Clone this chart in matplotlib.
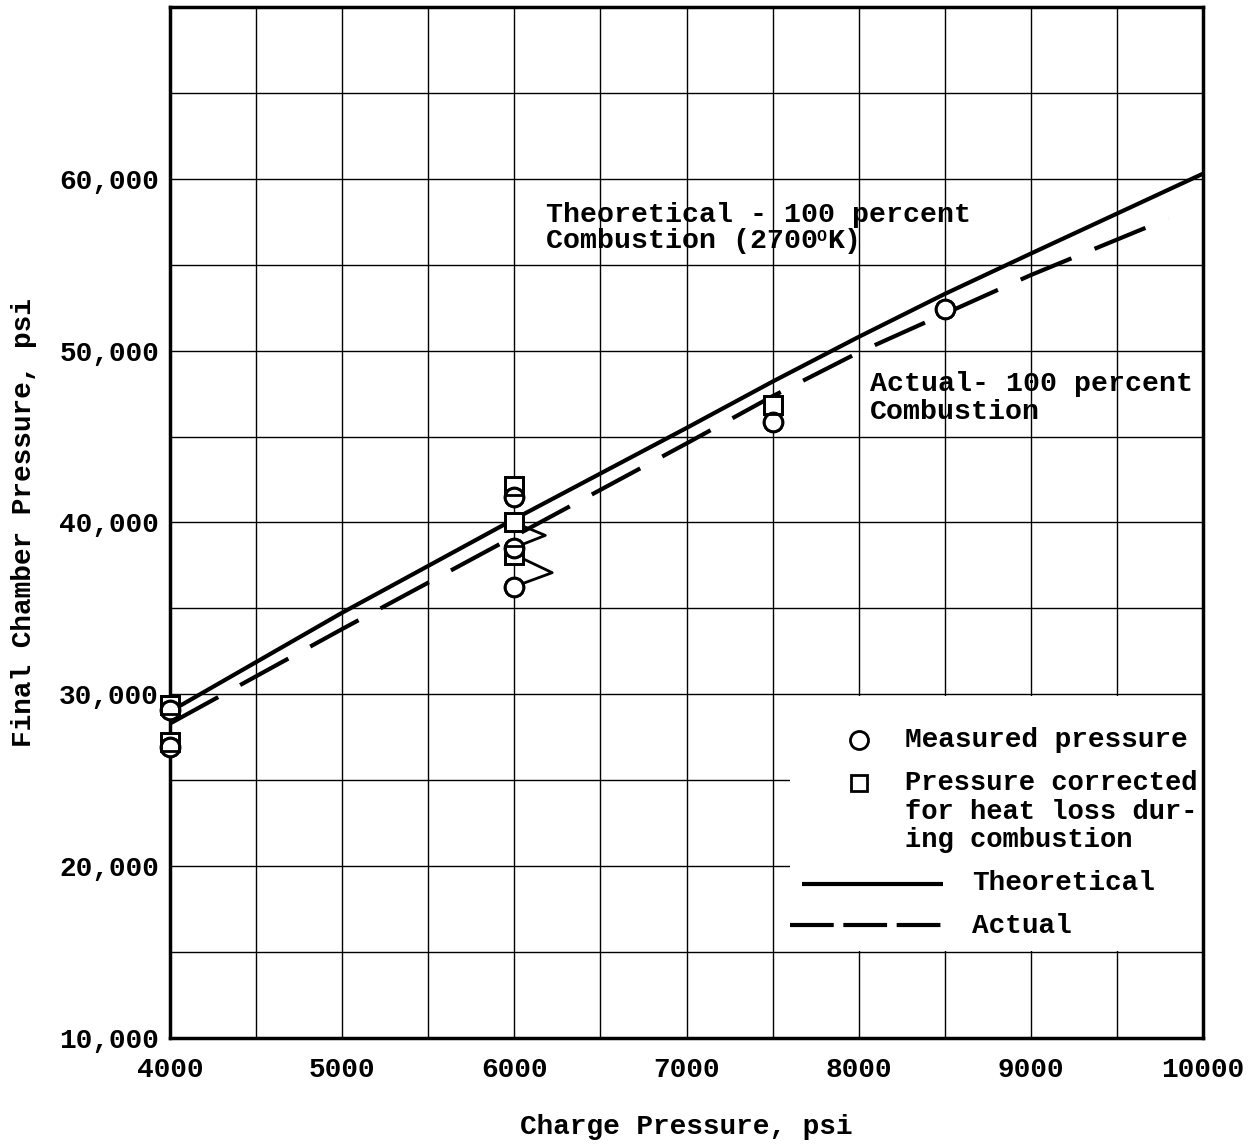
import matplotlib
matplotlib.use("Agg")
import matplotlib.pyplot as plt
from matplotlib.patches import Rectangle
from matplotlib.transforms import offset_copy

plt.rcParams['font.family'] = ['Liberation Mono', 'DejaVu Sans Mono']
plt.rcParams['font.weight'] = 'bold'
plt.rcParams['axes.labelweight'] = 'bold'

# ---- data ----
theo_x = [4000, 5000, 6000, 7000, 7500, 8000, 8500, 9000, 10000]
theo_y = [29000, 34750, 40200, 45500, 48200, 50800, 53300, 55650, 60300]

act_x = [4000, 5000, 6000, 7000, 7500, 8000, 8500, 9000, 9800]
act_y = [28300, 33800, 39200, 44600, 47350, 49900, 52150, 54400, 57700]

meas_x = [4000, 4000, 6000, 6000, 6000, 7500, 8500]
meas_y = [29100, 26950, 41500, 38540, 36270, 45820, 52400]

corr_x = [4000, 4000, 6000, 6000, 6000, 7500]
corr_y = [29400, 27250, 42100, 40000, 38130, 46810]

flag1_x = [6000, 6180, 6000]
flag1_y = [40000, 39250, 38540]
flag2_x = [6000, 6220, 6000]
flag2_y = [38130, 37080, 36270]

x_ticks = [4000, 5000, 6000, 7000, 8000, 9000, 10000]
x_ticklabels = ['4000', '5000', '6000', '7000', '8000', '9000', '10000']
y_ticks = [10000, 20000, 30000, 40000, 50000, 60000]
y_ticklabels = ['10,000', '20,000', '30,000', '40,000', '50,000', '60,000']

fig = plt.figure(figsize=(12.51, 11.44), dpi=100)
ax = fig.add_axes([170/1251, 1 - 1038/1144, 1033/1251, 1031/1144])
ax.set_xlim(4000, 10000)
ax.set_ylim(10000, 70000)

# grid
ax.set_xticks(range(4000, 10001, 500), minor=True)
ax.set_yticks(range(10000, 70001, 5000), minor=True)
ax.grid(True, which='both', color='black', lw=1.0)
ax.set_axisbelow(True)

ax.set_xticks(x_ticks)
ax.set_xticklabels(x_ticklabels, fontsize=20)
ax.set_yticks(y_ticks)
ax.set_yticklabels(y_ticklabels, fontsize=20)
ax.tick_params(which='both', length=0)
ax.tick_params(axis='x', pad=14)
ax.tick_params(axis='y', pad=8)
for s in ax.spines.values():
    s.set_linewidth(2.5)

# lines
lw = 3.0
ax.plot(theo_x, theo_y, color='black', lw=lw, solid_capstyle='butt', zorder=3)
ax.plot(act_x, act_y, color='black', lw=lw, linestyle=(0, (13.2, 6.0)),
        dash_capstyle='butt', zorder=3)

# flags
ax.plot(flag1_x, flag1_y, color='black', lw=2.0, zorder=3)
ax.plot(flag2_x, flag2_y, color='black', lw=2.0, zorder=3)

# markers (white filled, then outlines on top so overlaps show both)
mk = dict(linestyle='none', markeredgecolor='black', markeredgewidth=2.0, clip_on=False)
ax.plot(corr_x, corr_y, marker='s', markersize=12.5, markerfacecolor='white', zorder=4, **mk)
ax.plot(meas_x, meas_y, marker='o', markersize=13.5, markerfacecolor='white', zorder=4, **mk)
ax.plot(corr_x, corr_y, marker='s', markersize=12.5, fillstyle='none', zorder=5, **mk)
ax.plot(meas_x, meas_y, marker='o', markersize=13.5, fillstyle='none', zorder=5, **mk)

# annotations
fs = 20.3
ax.text(6183, 57470, 'Theoretical - 100 percent', fontsize=fs, va='baseline', ha='left')
ax.text(6183, 55950, 'Combustion (2700', fontsize=fs, va='baseline', ha='left')
ax.text(6183 + 16 * 0.6 * fs * 1.389 / 172.2 * 1000, 55950, 'O', fontsize=12,
        va='baseline', ha='left',
        transform=offset_copy(ax.transData, fig=fig, x=0, y=7, units='dots'))
ax.text(6183 + (16 * 0.6 * fs * 1.389 + 12 * 0.6 * 1.389 + 1) / 172.2 * 1000, 55950, 'K)',
        fontsize=fs, va='baseline', ha='left')
ax.text(8065, 47680, 'Actual- 100 percent', fontsize=fs, va='baseline', ha='left')
ax.text(8065, 46050, 'Combustion', fontsize=fs, va='baseline', ha='left')

# legend (manual)
def axx(px):
    return (px - 170) / 1033.0
def axy(py):
    return (1038 - py) / 1031.0

ax.add_patch(Rectangle((axx(790), axy(951)), 1 - axx(790), axy(696) - axy(951),
                       transform=ax.transAxes, facecolor='white', edgecolor='none', zorder=1))
ax.plot([axx(859)], [axy(740)], transform=ax.transAxes, marker='o', markersize=13,
        markerfacecolor='white', markeredgecolor='black', markeredgewidth=2.0, zorder=6)
ax.plot([axx(859)], [axy(783)], transform=ax.transAxes, marker='s', markersize=11,
        markerfacecolor='white', markeredgecolor='black', markeredgewidth=2.0, zorder=6)
ax.text(axx(905), axy(740), 'Measured pressure', transform=ax.transAxes,
        fontsize=20, va='center', ha='left')
ax.text(axx(905), axy(783), 'Pressure corrected', transform=ax.transAxes,
        fontsize=19.5, va='center', ha='left')
ax.text(axx(905), axy(812), 'for heat loss dur-', transform=ax.transAxes,
        fontsize=19.5, va='center', ha='left')
ax.text(axx(905), axy(840), 'ing combustion', transform=ax.transAxes,
        fontsize=19.5, va='center', ha='left')
ax.plot([axx(802), axx(943)], [axy(884), axy(884)], transform=ax.transAxes,
        color='black', lw=3, solid_capstyle='butt', zorder=6)
ax.plot([axx(790), axx(946)], [axy(925), axy(925)], transform=ax.transAxes,
        color='black', lw=3, linestyle=(0, (10.5, 2.3)), dash_capstyle='butt', zorder=6)
ax.text(axx(972), axy(883), 'Theoretical', transform=ax.transAxes,
        fontsize=20, va='center', ha='left')
ax.text(axx(972), axy(926), 'Actual', transform=ax.transAxes,
        fontsize=20, va='center', ha='left')

ax.set_xlabel('Charge Pressure, psi', fontsize=20, labelpad=22)
ax.set_ylabel('Final Chamber Pressure, psi', fontsize=20, labelpad=16)

fig.savefig('out.png', dpi=100, facecolor='white')
